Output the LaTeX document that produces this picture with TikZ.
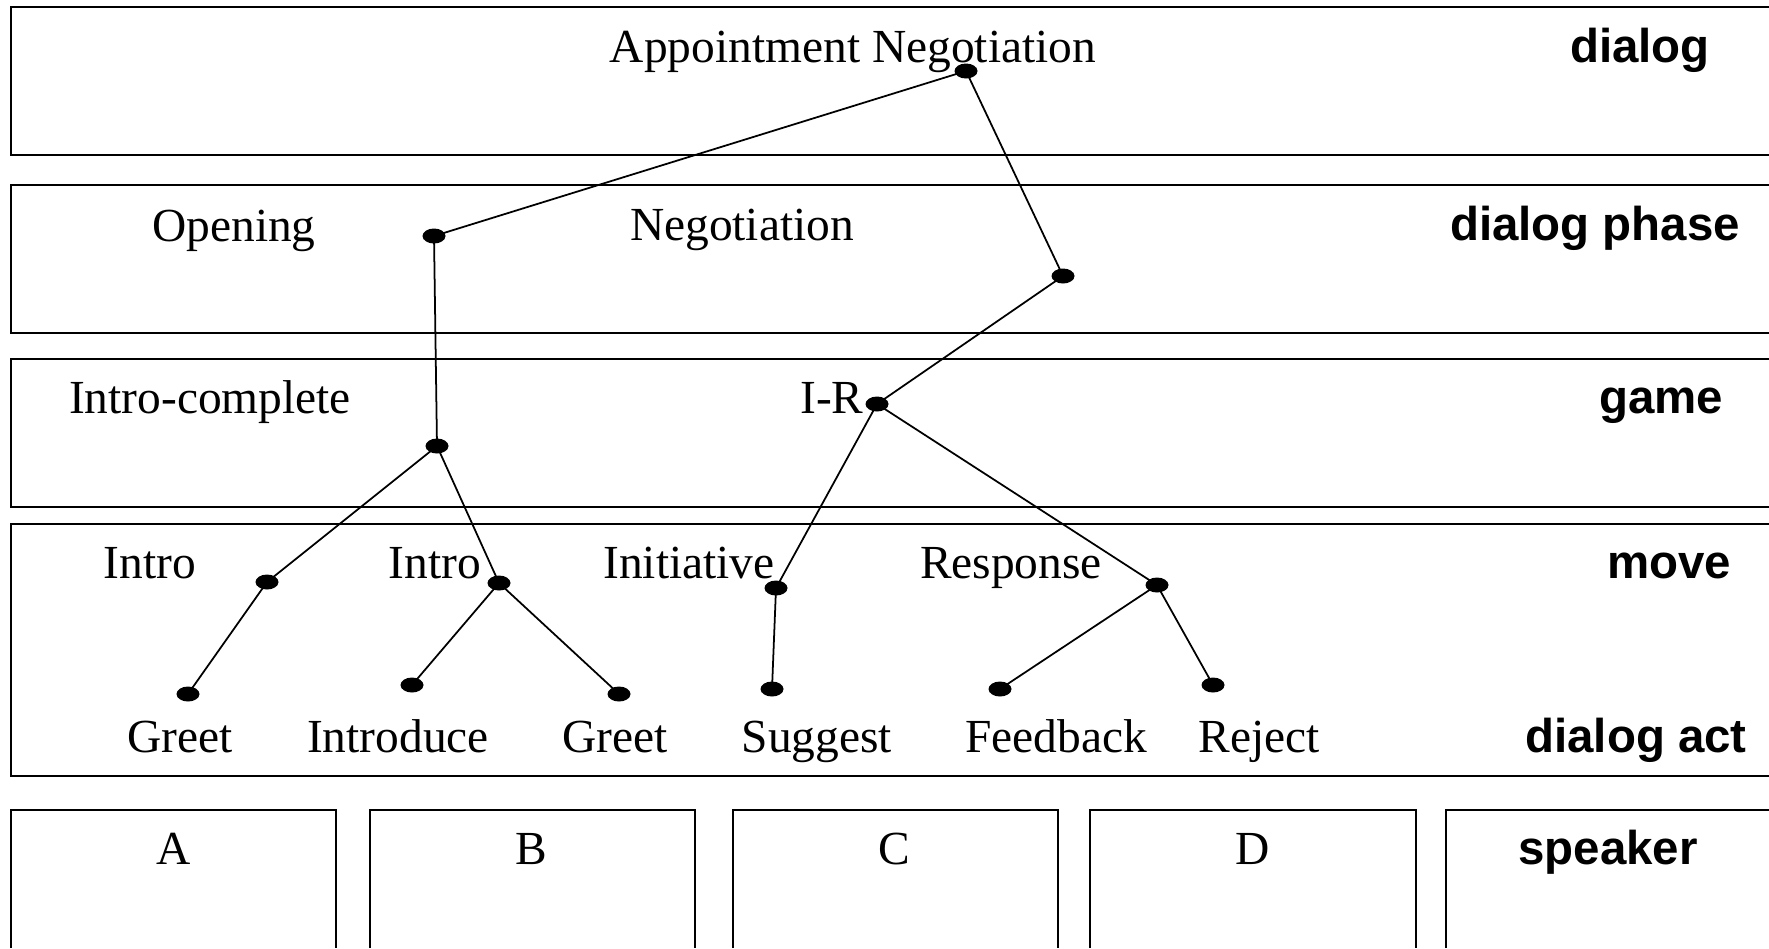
\documentclass[tikz,border=0pt]{standalone}
\usepackage{fontspec}
\setmainfont{Liberation Serif}
\setsansfont{Liberation Sans}
\usepackage{tkz-euclide}
\definecolor{BandClr}{rgb}{0,0,0}
\tikzset{
  lbl/.style={anchor=base,inner sep=0pt,font=\fontsize{13.5}{16}\selectfont},
  lyr/.style={anchor=base,inner sep=0pt,font=\fontsize{13.5}{16}\selectfont\sffamily\bfseries},
  band/.style={line width=0.8pt,color=BandClr},
}

\begin{document}
\begin{tikzpicture}[x=0.1mm,y=-0.1mm]
\useasboundingbox (0,0) rectangle (1769,948);
\tkzSetUpLine[line width=0.5pt,color=black]

% layer bands
\draw[band] (1769,7) -| (11,155) -- (1769,155);
\draw[band] (1769,185) -| (11,333) -- (1769,333);
\draw[band] (1769,359) -| (11,507) -- (1769,507);
\draw[band] (1769,524) -| (11,776) -- (1769,776);

% speaker boxes
\foreach \xa/\xb in {11/336,370/695,733/1058,1090/1416}
  \draw[band] (\xa,948) |- (\xb,810) -- (\xb,948);
\draw[band] (1446,948) |- (1769,810);

\tkzDefPoints{966/71/R,434/236/Op,1063/276/Ng,437/446/Ic,877/404/Ir}
\tkzDefPoints{267/582/Ia,499/583/Ib,776/588/It,1157/585/Rs}
\tkzDefPoints{188/694/Ga,412/685/In,619/694/Gb,772/689/Sg,1000/689/Fb,1213/685/Rj}

\tkzDrawSegments(R,Op R,Ng Op,Ic Ng,Ir Ic,Ia Ic,Ib Ir,It Ir,Rs)
\tkzDrawSegments(Ia,Ga Ib,In Ib,Gb It,Sg Rs,Fb Rs,Rj)

\foreach \p in {R,Op,Ng,Ic,Ir,Ia,Ib,It,Rs,Ga,In,Gb,Sg,Fb,Rj}
  \fill (\p) ellipse [x radius=11.5, y radius=7.5];

\node[lbl] (tApp) at (853,62) {Appointment Negotiation};
\node[lyr] (tDlg) at (1640,62) {dialog};

\node[lbl] (tOpn) at (234,241) {Opening};
\node[lbl] (tNeg) at (742,240) {Negotiation};
\node[lyr] (tPhs) at (1595,240) {dialog phase};

\node[lbl] (tIcp) at (210,413) {Intro-complete};
\node[lbl] (tIR) at (832,413) {I-R};
\node[lyr] (tGam) at (1661,413) {game};

\node[lbl] (tIa) at (150,578) {Intro};
\node[lbl] (tIb) at (435,578) {Intro};
\node[lbl] (tIni) at (689,578) {Initiative};
\node[lbl] (tRsp) at (1011,578) {Response};
\node[lyr] (tMov) at (1669,578) {move};

\node[lbl] (tGa) at (180,752) {Greet};
\node[lbl] (tIn) at (398,752) {Introduce};
\node[lbl] (tGb) at (615,752) {Greet};
\node[lbl] (tSg) at (817,752) {Suggest};
\node[lbl] (tFb) at (1056,752) {Feedback};
\node[lbl] (tRj) at (1259,752) {Reject};
\node[lyr] (tAct) at (1636,752) {dialog act};

\node[lbl] (tA) at (174,864) {A};
\node[lbl] (tB) at (531,864) {B};
\node[lbl] (tC) at (894,864) {C};
\node[lbl] (tD) at (1253,864) {D};
\node[lyr] (tSpk) at (1608,864) {speaker};

\end{tikzpicture}
\end{document}
